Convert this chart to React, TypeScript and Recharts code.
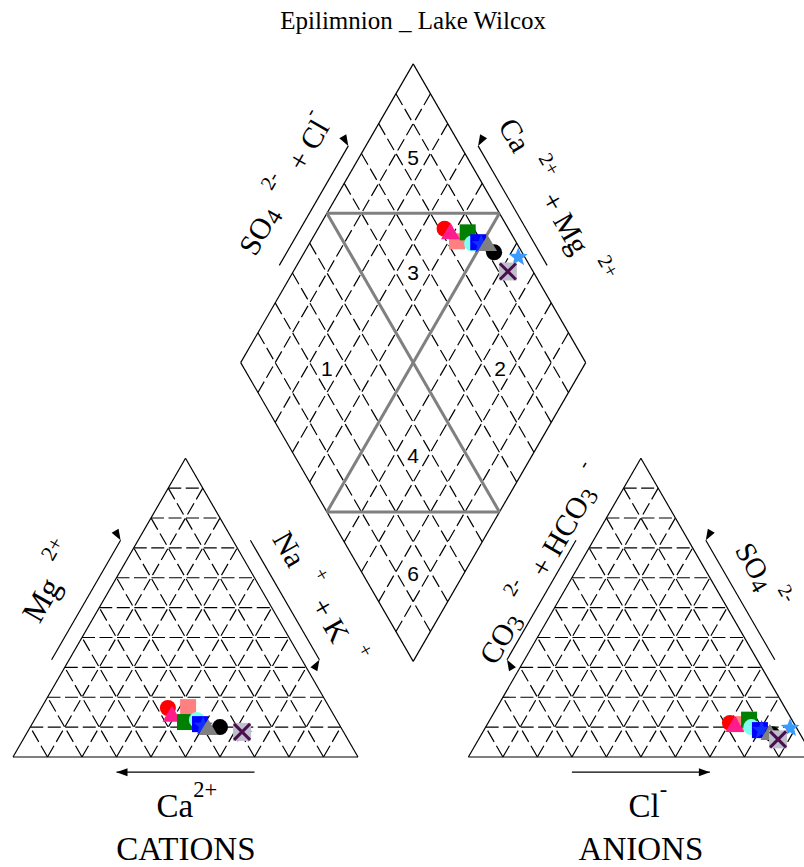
import React from 'react';
import { ScatterChart, Scatter, XAxis, YAxis, ReferenceLine } from 'recharts';

// ---------------- sample data (percent of meq) ----------------
const sampleShapes = ['square', 'circle', 'triangle', 'square', 'circle', 'square', 'star', 'circle', 'triangle', 'star', 'square', 'cross'];
const sampleColors = ['#FF8080', '#FF0000', '#FF1C8D', '#008000', '#7FFFEF', '#0000FF', '#1030FF', '#000000', '#808080', '#3A9BFF', '#C0C0CC', '#4A0E4E'];
const caPct = [40.9, 46.9, 46.9, 44.3, 40.5, 40.3, 39.7, 35.0, 38.6, 29.5, 29.4, 29.4];
const mgPct = [16.7, 16.4, 14.1, 11.7, 12.4, 11.0, 10.4, 10.0, 9.7, 7.7, 8.4, 8.4];
const naKPct = [42.4, 36.7, 39.0, 44.0, 47.1, 48.7, 49.9, 55.0, 51.7, 62.8, 62.2, 62.2];
const clPct = [72.0, 70.1, 71.9, 75.1, 77.0, 80.0, 80.5, 84.3, 83.4, 88.4, 86.8, 86.8];
const so4Pct = [11.0, 11.4, 10.7, 12.5, 10.0, 9.0, 9.0, 7.6, 8.0, 9.7, 5.9, 5.9];
const hco3Pct = [17.0, 18.5, 17.4, 12.4, 13.0, 11.0, 10.5, 8.1, 8.6, 1.9, 7.3, 7.3];

const gridSteps = [10, 20, 30, 40, 50, 60, 70, 80, 90];
const zoneNumbers = ['5', '3', '1', '2', '4', '6'];
const titleText = 'Epilimnion _ Lake Wilcox';

// ---------------- Piper geometry (diagram units, side = 100) ----------------
const S3 = Math.sqrt(3) / 2;
const GAP = 32;
const AX0 = 100 + GAP;
const DX = (100 + AX0) / 2;
const DY = (GAP / 2) * Math.sqrt(3);

type P = { x: number; y: number };
const cationXY = (mg: number, na: number): P => ({ x: na + mg / 2, y: mg * S3 });
const anionXY = (so4: number, cl: number): P => ({ x: AX0 + cl + so4 / 2, y: so4 * S3 });
const diamondXY = (s: number, c: number): P => ({ x: DX + (s - c) / 2, y: DY + (s + c) * S3 });

// pixel mapping of the page (3.45 px per unit, origin at page 13,757)
const W = 804;
const H = 867;
const PPU = 3.45;
const OX = 13;
const OY = 757;
const XMIN = -OX / PPU;
const XMAX = (W - OX) / PPU;
const YMIN = -(H - OY) / PPU;
const YMAX = OY / PPU;
const DASH = '13 4.5';

type Seg = { a: P; b: P };
const gridSegs: Seg[] = [];
const outlineSegs: Seg[] = [];
[0, AX0].forEach((ox) => {
  gridSteps.forEach((k) => {
    gridSegs.push({ a: { x: ox + k / 2, y: k * S3 }, b: { x: ox + 100 - k / 2, y: k * S3 } });
    gridSegs.push({ a: { x: ox + k, y: 0 }, b: { x: ox + k + (100 - k) / 2, y: (100 - k) * S3 } });
    gridSegs.push({ a: { x: ox + 100 - k, y: 0 }, b: { x: ox + (100 - k) / 2, y: (100 - k) * S3 } });
  });
  const A = { x: ox, y: 0 };
  const B = { x: ox + 100, y: 0 };
  const C = { x: ox + 50, y: 100 * S3 };
  outlineSegs.push({ a: A, b: B }, { a: B, b: C }, { a: C, b: A });
});
gridSteps.forEach((k) => {
  gridSegs.push({ a: diamondXY(k, 100), b: diamondXY(k, 0) });
  gridSegs.push({ a: diamondXY(100, k), b: diamondXY(0, k) });
});
const dBot = diamondXY(0, 0);
const dRight = diamondXY(100, 0);
const dTop = diamondXY(100, 100);
const dLeft = diamondXY(0, 100);
outlineSegs.push({ a: dBot, b: dRight }, { a: dRight, b: dTop }, { a: dTop, b: dLeft }, { a: dLeft, b: dBot });

const zoneSegs: Seg[] = [
  { a: diamondXY(50, 100), b: diamondXY(100, 50) },
  { a: diamondXY(0, 50), b: diamondXY(50, 0) },
  { a: diamondXY(50, 100), b: diamondXY(50, 0) },
  { a: diamondXY(100, 50), b: diamondXY(0, 50) },
];

// arrows along sides (from t=0.3 to t=0.7, offset outward)
const cCent = { x: 50, y: (100 * S3) / 3 };
const aCent = { x: AX0 + 50, y: (100 * S3) / 3 };
const dCent = diamondXY(50, 50);
const arrowSides: { p0: P; p1: P; cen: P }[] = [
  { p0: { x: 0, y: 0 }, p1: { x: 50, y: 100 * S3 }, cen: cCent },
  { p0: { x: 50, y: 100 * S3 }, p1: { x: 100, y: 0 }, cen: cCent },
  { p0: { x: 100, y: 0 }, p1: { x: 0, y: 0 }, cen: cCent },
  { p0: { x: AX0 + 50, y: 100 * S3 }, p1: { x: AX0, y: 0 }, cen: aCent },
  { p0: { x: AX0, y: 0 }, p1: { x: AX0 + 100, y: 0 }, cen: aCent },
  { p0: { x: AX0 + 100, y: 0 }, p1: { x: AX0 + 50, y: 100 * S3 }, cen: aCent },
  { p0: dLeft, p1: dTop, cen: dCent },
  { p0: dRight, p1: dTop, cen: dCent },
];
const ARROW_OFF = 4.4;
const arrowSegs: Seg[] = [];
const arrowHeads: { x: number; y: number; ang: number }[] = [];
arrowSides.forEach(({ p0, p1, cen }) => {
  const dx = p1.x - p0.x;
  const dy = p1.y - p0.y;
  const len = Math.hypot(dx, dy);
  let nx = dy / len;
  let ny = -dx / len;
  const mx = (p0.x + p1.x) / 2 - cen.x;
  const my = (p0.y + p1.y) / 2 - cen.y;
  if (nx * mx + ny * my < 0) {
    nx = -nx;
    ny = -ny;
  }
  const a = { x: p0.x + dx * 0.3 + nx * ARROW_OFF, y: p0.y + dy * 0.3 + ny * ARROW_OFF };
  const b = { x: p0.x + dx * 0.7 + nx * ARROW_OFF, y: p0.y + dy * 0.7 + ny * ARROW_OFF };
  arrowSegs.push({ a, b });
  arrowHeads.push({ x: b.x, y: b.y, ang: (Math.atan2(-dy, dx) * 180) / Math.PI });
});

// ---------------- labels ----------------
type Part = [string, 'n' | 'sup' | 'sub'];
const SERIF = "'Liberation Serif', 'Times New Roman', serif";
const SANS = "'Liberation Sans', Arial, sans-serif";
const labels: { x: number; y: number; parts: Part[]; angle: number; size: number; family: string }[] = [
  { x: 116, y: 213.5, parts: [[titleText, 'n']], angle: 0, size: 25, family: SERIF },
  { x: 116, y: 173.9, parts: [[zoneNumbers[0], 'n']], angle: 0, size: 21, family: SANS },
  { x: 116, y: 140.6, parts: [[zoneNumbers[1], 'n']], angle: 0, size: 21, family: SANS },
  { x: 91, y: 112.8, parts: [[zoneNumbers[2], 'n']], angle: 0, size: 21, family: SANS },
  { x: 141.2, y: 112.8, parts: [[zoneNumbers[3], 'n']], angle: 0, size: 21, family: SANS },
  { x: 116, y: 87.5, parts: [[zoneNumbers[4], 'n']], angle: 0, size: 21, family: SANS },
  { x: 116, y: 53.3, parts: [[zoneNumbers[5], 'n']], angle: 0, size: 21, family: SANS },
  { x: 78.8, y: 166.1, parts: [['SO', 'n'], ['4', 'sub'], ['  ', 'n'], ['2-', 'sup'], ['  + Cl', 'n'], ['-', 'sup']], angle: -60, size: 30, family: SERIF },
  { x: 156.8, y: 161.0, parts: [['Ca  ', 'n'], ['2+', 'sup'], ['  + Mg  ', 'n'], ['2+', 'sup']], angle: 60, size: 30, family: SERIF },
  { x: 11.0, y: 50.5, parts: [['Mg  ', 'n'], ['2+', 'sup']], angle: -60, size: 32, family: SERIF },
  { x: 88.6, y: 46.1, parts: [['Na  ', 'n'], ['+', 'sup'], ['  + K  ', 'n'], ['+', 'sup']], angle: 60, size: 30, family: SERIF },
  { x: 153.3, y: 55.7, parts: [['CO', 'n'], ['3', 'sub'], ['  ', 'n'], ['2-', 'sup'], ['  + HCO', 'n'], ['3', 'sub'], ['  ', 'n'], ['-', 'sup']], angle: -60, size: 30, family: SERIF },
  { x: 216.8, y: 52.4, parts: [['SO', 'n'], ['4', 'sub'], [' ', 'n'], ['2-', 'sup']], angle: 60, size: 29, family: SERIF },
  { x: 50.4, y: -14.2, parts: [['Ca', 'n'], ['2+', 'sup']], angle: 0, size: 33, family: SERIF },
  { x: 50.1, y: -26.8, parts: [['CATIONS', 'n']], angle: 0, size: 33, family: SERIF },
  { x: 184, y: -14.2, parts: [['Cl', 'n'], ['-', 'sup']], angle: 0, size: 33, family: SERIF },
  { x: 182, y: -26.8, parts: [['ANIONS', 'n']], angle: 0, size: 33, family: SERIF },
];

const LabelShape = (props: any) => {
  const { cx, cy, payload } = props;
  const { parts, angle, size, family } = payload;
  let cur = 0;
  return (
    <text
      x={cx}
      y={cy}
      transform={angle ? `rotate(${angle} ${cx} ${cy})` : undefined}
      textAnchor="middle"
      dominantBaseline="central"
      fontSize={size}
      fontFamily={family}
      fill="#000"
      style={{ whiteSpace: 'pre' }}
    >
      {parts.map(([s, k]: Part, i: number) => {
        const target = k === 'sup' ? -0.5 * size : k === 'sub' ? 0.22 * size : 0;
        const dy = target - cur;
        cur = target;
        return (
          <tspan key={i} dy={dy} fontSize={k === 'n' ? size : k === 'sub' ? size * 0.8 : size * 0.68}>
            {s}
          </tspan>
        );
      })}
    </text>
  );
};

const ArrowHead = (props: any) => {
  const { cx, cy, payload } = props;
  return (
    <polygon
      points="0,0 -11,-4 -11,4"
      fill="#000"
      transform={`translate(${cx} ${cy}) rotate(${-payload.ang})`}
    />
  );
};

const starPoints = (cx: number, cy: number, ro: number, ri: number) => {
  const pts: string[] = [];
  for (let i = 0; i < 10; i++) {
    const r = i % 2 === 0 ? ro : ri;
    const a = -Math.PI / 2 + (i * Math.PI) / 5;
    pts.push(`${cx + r * Math.cos(a)},${cy + r * Math.sin(a)}`);
  }
  return pts.join(' ');
};

const makeMarker = (shape: string, color: string, big: boolean) => (props: any) => {
  const { cx, cy } = props;
  if (shape === 'circle') return <circle cx={cx} cy={cy} r={8} fill={color} />;
  if (shape === 'square') {
    const h = big ? 9 : 8;
    return <rect x={cx - h} y={cy - h} width={2 * h} height={2 * h} fill={color} />;
  }
  if (shape === 'triangle')
    return <polygon points={`${cx},${cy - 9} ${cx - 9.5},${cy + 7} ${cx + 9.5},${cy + 7}`} fill={color} />;
  if (shape === 'star') return <polygon points={starPoints(cx, cy, 10, 4.2)} fill={color} />;
  return (
    <g stroke={color} strokeWidth={3}>
      <line x1={cx - 8} y1={cy - 8} x2={cx + 8} y2={cy + 8} />
      <line x1={cx - 8} y1={cy + 8} x2={cx + 8} y2={cy - 8} />
    </g>
  );
};

const sampleSeries = caPct.map((ca, i) => {
  const mg = mgPct[i];
  const na = naKPct[i];
  const cl = clPct[i];
  const so4 = so4Pct[i];
  const hco3 = hco3Pct[i];
  return {
    data: [
      { ...cationXY(mg, na), ca, mg, na },
      { ...anionXY(so4, cl), cl, so4, hco3 },
      { ...diamondXY(cl + so4, ca + mg) },
    ],
    shape: makeMarker(sampleShapes[i], sampleColors[i], i === sampleShapes.length - 2),
  };
});

const seg = (s: Seg) => [s.a, s.b] as any;

export default function App() {
  return (
    <div style={{ position: 'absolute', left: 0, top: 0, width: W, height: H, overflow: 'hidden', background: '#fff' }}>
      <ScatterChart width={W} height={H} margin={{ top: 0, right: 0, bottom: 0, left: 0 }}>
        <XAxis type="number" dataKey="x" domain={[XMIN, XMAX]} allowDataOverflow hide />
        <YAxis type="number" dataKey="y" domain={[YMIN, YMAX]} allowDataOverflow hide />
        {gridSegs.map((s, i) => (
          <ReferenceLine key={'g' + i} segment={seg(s)} stroke="#000" strokeWidth={1.2} strokeDasharray={DASH} ifOverflow="visible" />
        ))}
        {outlineSegs.map((s, i) => (
          <ReferenceLine key={'o' + i} segment={seg(s)} stroke="#000" strokeWidth={1.2} ifOverflow="visible" />
        ))}
        {zoneSegs.map((s, i) => (
          <ReferenceLine key={'z' + i} segment={seg(s)} stroke="#808080" strokeWidth={3} ifOverflow="visible" />
        ))}
        {arrowSegs.map((s, i) => (
          <ReferenceLine key={'a' + i} segment={seg(s)} stroke="#000" strokeWidth={1.2} ifOverflow="visible" />
        ))}
        <Scatter data={arrowHeads} shape={ArrowHead} isAnimationActive={false} />
        <Scatter data={labels} shape={LabelShape} isAnimationActive={false} />
        {sampleSeries.map((s, i) => (
          <Scatter key={'s' + i} data={s.data} shape={s.shape} isAnimationActive={false} />
        ))}
      </ScatterChart>
    </div>
  );
}
